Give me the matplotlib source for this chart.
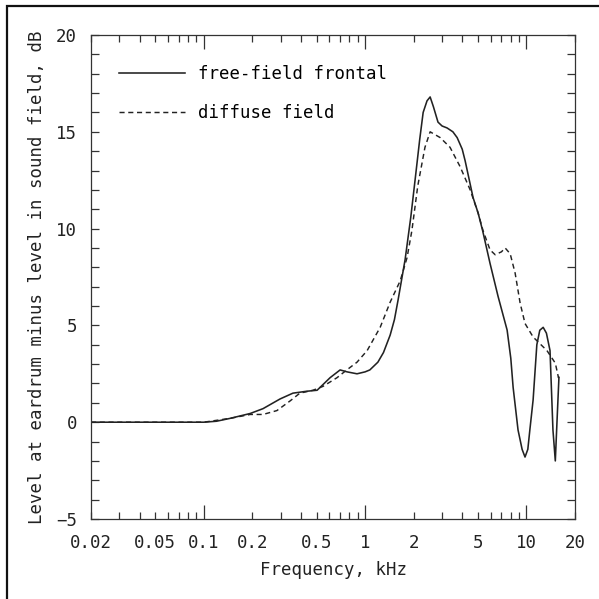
import matplotlib
matplotlib.use('Agg')
import matplotlib.pyplot as plt
from matplotlib.ticker import FixedLocator, FuncFormatter
from matplotlib.patches import Rectangle

# free-field frontal (solid), frequency in kHz, level in dB
freq_free = [0.02, 0.05, 0.1, 0.12, 0.146, 0.194, 0.233, 0.297, 0.357, 0.436, 0.504,
             0.607, 0.70, 0.773, 0.891, 1.0, 1.07, 1.20, 1.30, 1.43, 1.52, 1.60, 1.77,
             1.92, 2.04, 2.18, 2.29, 2.42, 2.53, 2.65, 2.83, 3.0, 3.22, 3.5, 3.72, 4.0,
             4.17, 4.67, 5.02, 5.35, 5.95, 6.67, 7.59, 8.0, 8.27, 8.87, 9.4,
             9.8, 10.2, 10.5, 11.0, 11.6, 12.1, 12.7, 13.3, 14.0, 14.6, 15.1, 15.5, 15.9]
level_free = [0, 0, 0, 0.05, 0.2, 0.45, 0.7, 1.2, 1.5, 1.6, 1.65,
              2.3, 2.7, 2.6, 2.5, 2.6, 2.7, 3.1, 3.6, 4.5, 5.3, 6.3, 8.4,
              10.6, 12.5, 14.6, 16.0, 16.6, 16.8, 16.3, 15.5, 15.3, 15.2, 15.0, 14.7, 14.1,
              13.5, 11.6, 10.8, 9.9, 8.2, 6.5, 4.76, 3.3, 1.8, -0.4, -1.4,
              -1.8, -1.4, -0.4, 1.15, 4.0, 4.75, 4.9, 4.6, 3.7, -0.4, -2.0, 0.2, 2.3]

# diffuse field (dashed)
freq_diffuse = [0.02, 0.1, 0.146, 0.194, 0.233, 0.284, 0.343, 0.394, 0.475, 0.548,
                0.67, 0.77, 0.891, 1.03, 1.24, 1.43, 1.65, 1.82, 1.95, 2.12, 2.35,
                2.53, 2.92, 3.36, 3.88, 4.48, 5.02, 5.38, 5.95, 6.4, 7.0, 7.38, 7.93,
                8.51, 9.14, 9.8, 11.0, 13.4, 15.1, 15.8, 16.0]
level_diffuse = [0, 0, 0.2, 0.4, 0.4, 0.6, 1.1, 1.5, 1.65, 1.85,
                 2.3, 2.7, 3.1, 3.7, 4.9, 6.2, 7.3, 8.5, 9.9, 12.2, 14.2,
                 15.0, 14.7, 14.2, 13.2, 12.0, 10.8, 9.9, 8.9, 8.65, 8.8, 9.0, 8.7,
                 7.7, 6.15, 5.1, 4.4, 3.7, 3.05, 2.3, 2.5]

series_labels = ['free-field frontal', 'diffuse field']
x_labelled = [0.02, 0.05, 0.1, 0.2, 0.5, 1, 2, 5, 10, 20]

plt.rcParams['font.family'] = ['DejaVu Sans Mono']
plt.rcParams['font.size'] = 12.5
ink = '#222222'

fig = plt.figure(figsize=(5.99, 5.99), dpi=100)
ax = fig.add_axes([91 / 599, 80 / 599, 484 / 599, 484 / 599])

ax.plot(freq_free, level_free, color=ink, lw=1.15, label=series_labels[0],
        solid_joinstyle='round')
ax.plot(freq_diffuse, level_diffuse, color=ink, lw=1.05, ls=(0, (3.5, 2.5)),
        label=series_labels[1])

ax.set_xscale('log')
ax.set_xlim(0.02, 20)
ax.set_ylim(-5, 20)

# ticks: long at decades, short in between, labels only at 1-2-5
major = [0.1, 1, 10]
minor = [k * 10.0 ** e for e in (-2, -1, 0) for k in range(2, 10)] + [20]
wanted = {round(v, 6) for v in x_labelled}
fmt = FuncFormatter(lambda v, pos: ('%g' % v) if round(v, 6) in wanted else '')
ax.xaxis.set_major_locator(FixedLocator(major))
ax.xaxis.set_minor_locator(FixedLocator(minor))
ax.xaxis.set_major_formatter(fmt)
ax.xaxis.set_minor_formatter(fmt)
ax.yaxis.set_major_locator(FixedLocator(range(-5, 21, 5)))
ax.yaxis.set_minor_locator(FixedLocator(range(-5, 21)))

ax.tick_params(which='both', direction='in', top=True, right=True,
               colors='#333333', labelcolor=ink, width=0.9)
ax.tick_params(axis='x', which='major', length=10, pad=10.5)
ax.tick_params(axis='x', which='minor', length=5, pad=10.5)
ax.tick_params(axis='y', which='both', length=5.8, pad=10)
for s in ax.spines.values():
    s.set_linewidth(0.9)
    s.set_color('#333333')

ax.set_xlabel('Frequency, kHz', labelpad=7, color=ink)
ax.set_ylabel('Level at eardrum minus level in sound field, dB', labelpad=7, color=ink)

ax.legend(loc='upper left', bbox_to_anchor=(0.058, 0.937), frameon=False,
          borderpad=0, borderaxespad=0, handlelength=3.8, handletextpad=0.75,
          labelspacing=1.2)

# outer frame, only left and top edges fall inside the image
fig.patches.append(Rectangle((7 / 599, -0.05), 1.1, 1.05 - 6 / 599,
                             transform=fig.transFigure, fill=False,
                             lw=1.6, ec='#111111'))

fig.savefig('out.png', dpi=100)
